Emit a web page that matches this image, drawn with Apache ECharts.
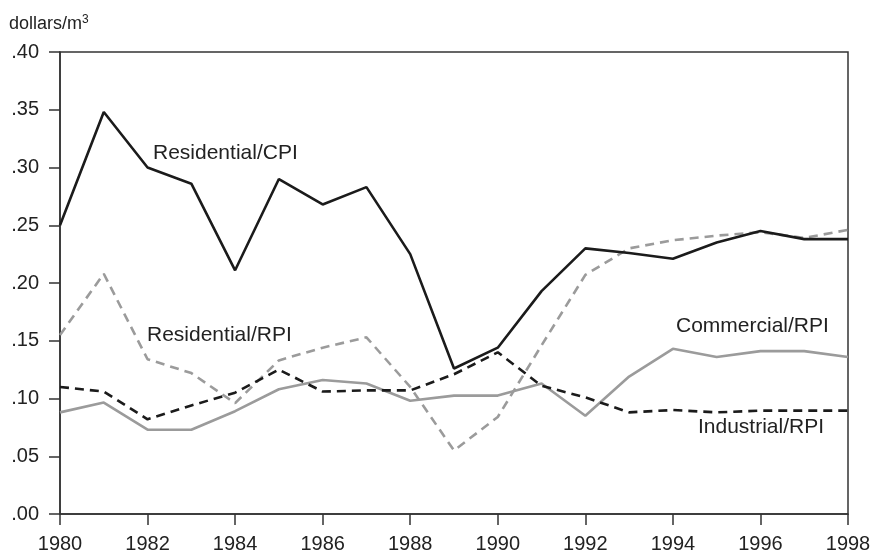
<!DOCTYPE html>
<html>
<head>
  <meta charset="utf-8">
  <title>Price per cubic metre</title>
  <script src="https://cdn.jsdelivr.net/npm/echarts@6/dist/echarts.min.js"></script>
  <style>
    html, body { margin: 0; padding: 0; background: #fff; }
  </style>
</head>
<body>
  <div id="main" style="width: 874px;height:554px;"></div>

  <script>
    const years = [1980, 1981, 1982, 1983, 1984, 1985, 1986, 1987, 1988, 1989,
                   1990, 1991, 1992, 1993, 1994, 1995, 1996, 1997, 1998];
    const residentialCPI = [0.250, 0.348, 0.300, 0.286, 0.211, 0.290, 0.268, 0.283, 0.225, 0.126,
                            0.144, 0.193, 0.230, 0.226, 0.221, 0.235, 0.245, 0.238, 0.238];
    const residentialRPI = [0.155, 0.208, 0.134, 0.122, 0.096, 0.133, 0.144, 0.153, 0.110, 0.055,
                            0.084, 0.146, 0.207, 0.230, 0.237, 0.241, 0.244, 0.239, 0.246];
    const industrialRPI = [0.110, 0.106, 0.082, 0.094, 0.105, 0.125, 0.106, 0.107, 0.107, 0.121,
                           0.140, 0.111, 0.101, 0.088, 0.090, 0.088, 0.0895, 0.0895, 0.0895];
    const commercialRPI = [0.088, 0.0965, 0.073, 0.073, 0.089, 0.108, 0.116, 0.113, 0.098, 0.1025,
                           0.1025, 0.113, 0.085, 0.119, 0.143, 0.136, 0.141, 0.141, 0.136];
    const xTicks = { min: 1980, max: 1998, step: 2 };
    const yTicks = { min: 0, max: 0.40, step: 0.05 };

    const pairs = vals => vals.map((v, i) => [years[i], v]);
    const font = "Liberation Sans, Arial, Helvetica, sans-serif";
    const black = "#1b1b1b";
    const gray = "#9b9b9b";

    function line(name, vals, color, dashed) {
      return {
        name: name,
        type: "line",
        data: pairs(vals),
        symbol: "none",
        animation: false,
        lineStyle: { color: color, width: 2.6, type: dashed ? [9, 6] : "solid" }
      };
    }

    function label(text, x, y) {
      return {
        type: "text", left: x, top: y,
        style: { text: text, font: "21px " + font, fill: "#222" }
      };
    }

    const chart = echarts.init(document.getElementById("main"));
    chart.setOption({
      animation: false,
      grid: { left: 60, right: 26, top: 52, bottom: 40, show: true,
              borderColor: "#333", borderWidth: 1.5, backgroundColor: "transparent" },
      xAxis: {
        type: "value", min: xTicks.min, max: xTicks.max, interval: xTicks.step,
        axisLine: { lineStyle: { color: "#333", width: 1.5 } },
        axisTick: { length: 11, lineStyle: { color: "#333", width: 1.5 } },
        axisLabel: { color: "#222", fontSize: 20, fontFamily: font, margin: 20,
                     formatter: v => String(v) },
        splitLine: { show: false }
      },
      yAxis: {
        type: "value", min: yTicks.min, max: yTicks.max, interval: yTicks.step,
        axisLine: { show: true, lineStyle: { color: "#333", width: 1.5 } },
        axisTick: { show: true, length: 11, lineStyle: { color: "#333", width: 1.5 } },
        axisLabel: { color: "#222", fontSize: 20, fontFamily: font, margin: 21,
                     formatter: v => v.toFixed(2).replace(/^0/, "") },
        splitLine: { show: false }
      },
      series: [
        line("Residential/RPI", residentialRPI, gray, true),
        line("Commercial/RPI", commercialRPI, gray, false),
        line("Industrial/RPI", industrialRPI, black, true),
        line("Residential/CPI", residentialCPI, black, false)
      ],
      graphic: [
        {
          type: "text", left: 9, top: 14,
          style: {
            text: "dollars/m{sup|3}", font: "18px " + font, fill: "#222",
            rich: { sup: { fontSize: 12, fontFamily: font, fill: "#222", padding: [0, 0, 9, 0] } }
          }
        },
        label("Residential/CPI", 153, 143),
        label("Residential/RPI", 147, 325),
        label("Commercial/RPI", 676, 316),
        label("Industrial/RPI", 698, 417)
      ]
    });
  </script>
</body>
</html>
